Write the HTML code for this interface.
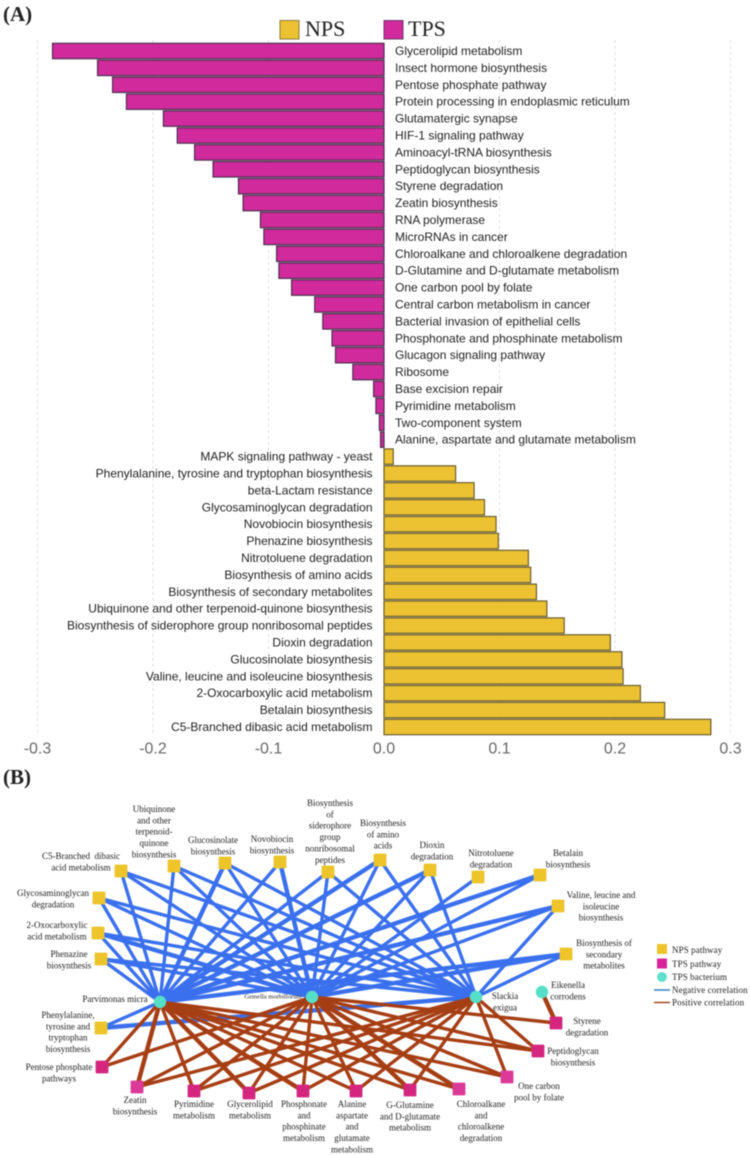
<!DOCTYPE html>
<html lang="en">
<head>
<meta charset="utf-8">
<title>NPS and TPS pathway chart and correlation network</title>
<style>
html,body{margin:0;padding:0;background:#fff;}
#figure{display:block;width:750px;height:1155px;filter:blur(0.5px);}
.serif{font-family:"Liberation Serif",serif;}
.sans{font-family:"Liberation Sans",sans-serif;}
.bar-label{font-size:12px;fill:#222;dominant-baseline:central;}
.tick-label{font-size:16px;fill:#666;text-anchor:middle;dominant-baseline:central;}
.net-label{font-size:9px;fill:#222;text-anchor:middle;dominant-baseline:central;}
.legend-b{font-size:9px;fill:#222;dominant-baseline:central;letter-spacing:.1px;}
</style>
</head>
<body>
<svg id="figure" xmlns="http://www.w3.org/2000/svg" width="750" height="1155" viewBox="0 0 750 1155">
  <rect x="0" y="0" width="750" height="1155" fill="#fff"/>
  <text class="serif" x="3" y="21" font-size="21" font-weight="bold" fill="#222">(A)</text>
  <text class="serif" x="3" y="784" font-size="21" font-weight="bold" fill="#222">(B)</text>

  <g id="grid"></g>
  <g id="bars"></g>
  <g id="barLabels"></g>
  <g id="ticks"></g>

  <g>
    <g>
      <rect x="280" y="20.5" width="19" height="18.5" fill="#ecc232" stroke="#8a7a3a" stroke-width="1"/>
      <text class="serif" x="305" y="36" font-size="22" fill="#222">NPS</text>
    </g>
    <g>
      <rect x="384" y="20.5" width="19" height="18.5" fill="#d02a9c" stroke="#6b3a66" stroke-width="1"/>
      <text class="serif" x="408" y="36" font-size="22" fill="#222">TPS</text>
    </g>
  </g>

  <g id="edgesNeg"></g>
  <g id="edgesPos"></g>
  <g id="nodes"></g>
  <g id="netLabels"></g>

  <g>
    <rect x="657" y="944" width="10" height="10" fill="#edc42a"/>
    <text class="serif legend-b" x="672" y="950">NPS pathway</text>
    <rect x="657" y="958.5" width="10" height="10" fill="#d8249a"/>
    <text class="serif legend-b" x="672" y="964">TPS pathway</text>
    <circle cx="662" cy="977" r="5" fill="#5fe0cc"/>
    <text class="serif legend-b" x="672" y="977">TPS bacterium</text>
    <line x1="654" x2="670" y1="990" y2="990" stroke="#3f86c8" stroke-width="1.6"/>
    <text class="serif legend-b" x="672" y="990">Negative correlation</text>
    <line x1="654" x2="670" y1="1002.5" y2="1002.5" stroke="#a0552c" stroke-width="1.6"/>
    <text class="serif legend-b" x="672" y="1002.5">Positive correlation</text>
  </g>
</svg>

<script>
/* ---------- Panel A data ---------- */
var tpsCategories = ["Glycerolipid metabolism","Insect hormone biosynthesis","Pentose phosphate pathway","Protein processing in endoplasmic reticulum","Glutamatergic synapse","HIF-1 signaling pathway","Aminoacyl-tRNA biosynthesis","Peptidoglycan biosynthesis","Styrene degradation","Zeatin biosynthesis","RNA polymerase","MicroRNAs in cancer","Chloroalkane and chloroalkene degradation","D-Glutamine and D-glutamate metabolism","One carbon pool by folate","Central carbon metabolism in cancer","Bacterial invasion of epithelial cells","Phosphonate and phosphinate metabolism","Glucagon signaling pathway","Ribosome","Base excision repair","Pyrimidine metabolism","Two-component system","Alanine, aspartate and glutamate metabolism"];
var tpsValues = [-0.287,-0.248,-0.235,-0.223,-0.191,-0.179,-0.164,-0.148,-0.126,-0.122,-0.107,-0.104,-0.093,-0.091,-0.080,-0.060,-0.053,-0.045,-0.042,-0.027,-0.009,-0.007,-0.004,-0.003];
var npsCategories = ["MAPK signaling pathway - yeast","Phenylalanine, tyrosine and tryptophan biosynthesis","beta-Lactam resistance","Glycosaminoglycan degradation","Novobiocin biosynthesis","Phenazine biosynthesis","Nitrotoluene degradation","Biosynthesis of amino acids","Biosynthesis of secondary metabolites","Ubiquinone and other terpenoid-quinone biosynthesis","Biosynthesis of siderophore group nonribosomal peptides","Dioxin degradation","Glucosinolate biosynthesis","Valine, leucine and isoleucine biosynthesis","2-Oxocarboxylic acid metabolism","Betalain biosynthesis","C5-Branched dibasic acid metabolism"];
var npsValues = [0.008,0.062,0.078,0.087,0.097,0.099,0.125,0.127,0.132,0.141,0.156,0.196,0.206,0.207,0.222,0.243,0.283];
var tickValues = [-0.3,-0.2,-0.1,0,0.1,0.2,0.3];
var tickLabels = ["-0.3","-0.2","-0.1","0.0","0.1","0.2","0.3"];

/* ---------- Panel B network data ---------- */
var bacteria = [
  {id:"P",name:"parvimonas",x:160,y:1002,lx:115,ly:999,lines:["Parvimonas micra"]},
  {id:"G",name:"gemella",x:312,y:997,lx:273,ly:997,size:6.6,lines:["Gemella morbillorum"]},
  {id:"S",name:"slackia",x:476,y:997,lx:505,ly:996,lines:["Slackia","exigua"]},
  {id:"E",name:"eikenella",x:542,y:992,lx:568,ly:985,lines:["Eikenella","corrodens"]}
];
var npsNodes = [
  {name:"c5",x:121,y:871,lx:81,ly:856,links:"PGS",wide:"",lines:["C5-Branched  dibasic","acid metabolism"]},
  {name:"ubiquinone",x:174,y:866,lx:154,ly:809,links:"PGS",wide:"",lines:["Ubiquinone","and other","terpenoid-","quinone","biosynthesis"]},
  {name:"glucosinolate",x:225,y:863,lx:213,ly:840,links:"PGS",wide:"P",lines:["Glucosinolate","biosynthesis"]},
  {name:"novobiocin",x:280,y:862,lx:272,ly:839,links:"PG",wide:"G",lines:["Novobiocin","biosynthesis"]},
  {name:"siderophore",x:328,y:872,lx:330,ly:803,links:"PGS",wide:"",lines:["Biosynthesis","of","siderophore","group","nonribosomal","peptides"]},
  {name:"amino-acids",x:380,y:860,lx:383,ly:823,links:"PGS",wide:"P",lines:["Biosynthesis","of amino","acids"]},
  {name:"dioxin",x:430,y:870,lx:432,ly:845,links:"PGS",wide:"P",lines:["Dioxin","degradation"]},
  {name:"nitrotoluene",x:478,y:877,lx:491,ly:853,links:"G",wide:"",lines:["Nitrotoluene","degradation"]},
  {name:"betalain",x:540,y:875,lx:568,ly:853,links:"PG",wide:"P",lines:["Betalain","biosynthesis"]},
  {name:"valine",x:558,y:906,lx:601,ly:895,links:"PGS",wide:"P",lines:["Valine, leucine and","isoleucine","biosynthesis"]},
  {name:"secondary",x:566,y:954,lx:604,ly:943,links:"PGS",wide:"PG",lines:["Biosynthesis of","secondary","metabolites"]},
  {name:"glycosaminoglycan",x:99,y:898,lx:53,ly:893,links:"PGS",wide:"",lines:["Glycosaminoglycan","degradation"]},
  {name:"oxocarboxylic",x:98,y:933,lx:57,ly:925,links:"PGS",wide:"G",lines:["2-Oxocarboxylic","acid metabolism"]},
  {name:"phenazine",x:101,y:959,lx:69,ly:954,links:"PGS",wide:"",lines:["Phenazine","biosynthesis"]},
  {name:"phenylalanine",x:101,y:1028,lx:68,ly:1015,links:"PS",wide:"S",lines:["Phenylalanine,","tyrosine and","tryptophan","biosynthesis"]}
];
var tpsNodes = [
  {name:"pentose",x:102,y:1067,lx:59,ly:1067,links:"PG",wide:"",lines:["Pentose phosphate","pathways"]},
  {name:"zeatin",x:137,y:1087,lx:135,ly:1100,links:"PGS",wide:"P",light:true,lines:["Zeatin","biosynthesis"]},
  {name:"pyrimidine",x:194,y:1091,lx:194,ly:1104,links:"PGS",wide:"",lines:["Pyrimidine","metabolism"]},
  {name:"glycerolipid",x:249,y:1093,lx:250,ly:1104,links:"PGS",wide:"P",lines:["Glycerolipid","metabolism"]},
  {name:"phosphonate",x:303,y:1091,lx:304,ly:1104,links:"PGS",wide:"P",lines:["Phosphonate","and","phosphinate","metabolism"]},
  {name:"alanine",x:356,y:1091,lx:352,ly:1104,links:"PGS",wide:"",lines:["Alanine","aspartate","and","glutamate","metabolism"]},
  {name:"glutamine",x:410,y:1090,lx:410,ly:1105,links:"PGS",wide:"G",lines:["G-Glutamine","and D-glutamate","metabolism"]},
  {name:"chloroalkane",x:459,y:1089,lx:481,ly:1104,links:"PG",wide:"G",light:true,lines:["Chloroalkane","and","chloroalkene","degradation"]},
  {name:"one-carbon",x:507,y:1077,lx:539,ly:1086,links:"PGS",wide:"",light:true,lines:["One carbon","pool by folate"]},
  {name:"peptidoglycan",x:538,y:1051,lx:573,ly:1051,links:"PGS",wide:"",lines:["Peptidoglycan","biosynthesis"]},
  {name:"styrene",x:556,y:1023,lx:587,ly:1021,links:"GE",wide:"E",lines:["Styrene","degradation"]}
];

/* ---------- Drawing ---------- */
var SVGNS = "http://www.w3.org/2000/svg";
function xScale(v){ return 384 + v * 1155; }
function rowY(i){ return 51 + i * 16.9; }
function make(tag, attrs, parent){
  var el = document.createElementNS(SVGNS, tag);
  for (var k in attrs) el.setAttribute(k, attrs[k]);
  parent.appendChild(el);
  return el;
}
function slug(s){ return s.toLowerCase().replace(/[^a-z0-9]+/g, "-").replace(/^-|-$/g, ""); }

var gridG = document.getElementById("grid");
var barsG = document.getElementById("bars");
var labelsG = document.getElementById("barLabels");
var ticksG = document.getElementById("ticks");

tickValues.forEach(function(v, i){
  if (v !== 0) {
    var g = make("line", {x1:xScale(v), x2:xScale(v), y1:40, y2:736, stroke:"#dcdcdc", "stroke-width":1, "stroke-dasharray":"3 3"}, gridG);
    
    
  }
  var t = make("text", {x:xScale(v), y:749, "class":"sans tick-label"}, ticksG);
  t.textContent = tickLabels[i];
  
  
});

function drawBar(value, label, row, fill, stroke, prefix){
  var x0 = xScale(0), x1 = xScale(value);
  var r = make("rect", {x:Math.min(x0,x1), y:rowY(row)-7.7, width:Math.abs(x1-x0), height:15.4, fill:fill, stroke:stroke, "stroke-width":1.2}, barsG);
  
  
  var isNeg = value < 0;
  var t = make("text", {x:isNeg ? 395 : 372.5, y:rowY(row), "text-anchor":isNeg ? "start" : "end", "class":"sans bar-label"}, labelsG);
  t.textContent = label;
  
  
}
tpsValues.forEach(function(v, i){ drawBar(v, tpsCategories[i], i, "#d02a9c", "#4d2f4f", "tps"); });
npsValues.forEach(function(v, i){ drawBar(v, npsCategories[i], i + tpsValues.length, "#ecc232", "#6b5e2c", "nps"); });

var hubById = {};
bacteria.forEach(function(b){ hubById[b.id] = b; });
var negG = document.getElementById("edgesNeg");
var posG = document.getElementById("edgesPos");
var nodesG = document.getElementById("nodes");
var netLabelsG = document.getElementById("netLabels");

function drawEdges(list, group, color, name){
  list.forEach(function(n){
    n.links.split("").forEach(function(id){
      var h = hubById[id];
      var w = n.wide.indexOf(id) >= 0 ? 4.4 : 3.4;
      var e = make("line", {x1:n.x, y1:n.y, x2:h.x, y2:h.y, stroke:color, "stroke-width":w, "stroke-linecap":"round"}, group);
      
      
    });
  });
}
drawEdges(npsNodes, negG, "#3a70ee", "negative-edge");
drawEdges(tpsNodes, posG, "#a63e14", "positive-edge");

function drawLabel(n){
  var fs = n.size || 9;
  n.lines.forEach(function(line, i){
    var t = make("text", {x:n.lx, y:n.ly + i * 11.35, "class":"serif net-label", style:"font-size:" + fs + "px;white-space:pre"}, netLabelsG);
    t.textContent = line;
    
    
  });
}
function drawSquares(list, fill, lightFill, prefix){
  list.forEach(function(n){
    var r = make("rect", {x:n.x-6.4, y:n.y-6.4, width:12.8, height:12.8, rx:1, fill:n.light ? lightFill : fill}, nodesG);
    
    
    drawLabel(n);
  });
}
drawSquares(npsNodes, "#edc42a", "#edc42a", "nps");
drawSquares(tpsNodes, "#d4267f", "#dc3a98", "tps");
bacteria.forEach(function(b){
  var c = make("circle", {cx:b.x, cy:b.y, r:6.2, fill:"#55dfc8"}, nodesG);
  
  
  drawLabel(b);
});
</script>
</body>
</html>
